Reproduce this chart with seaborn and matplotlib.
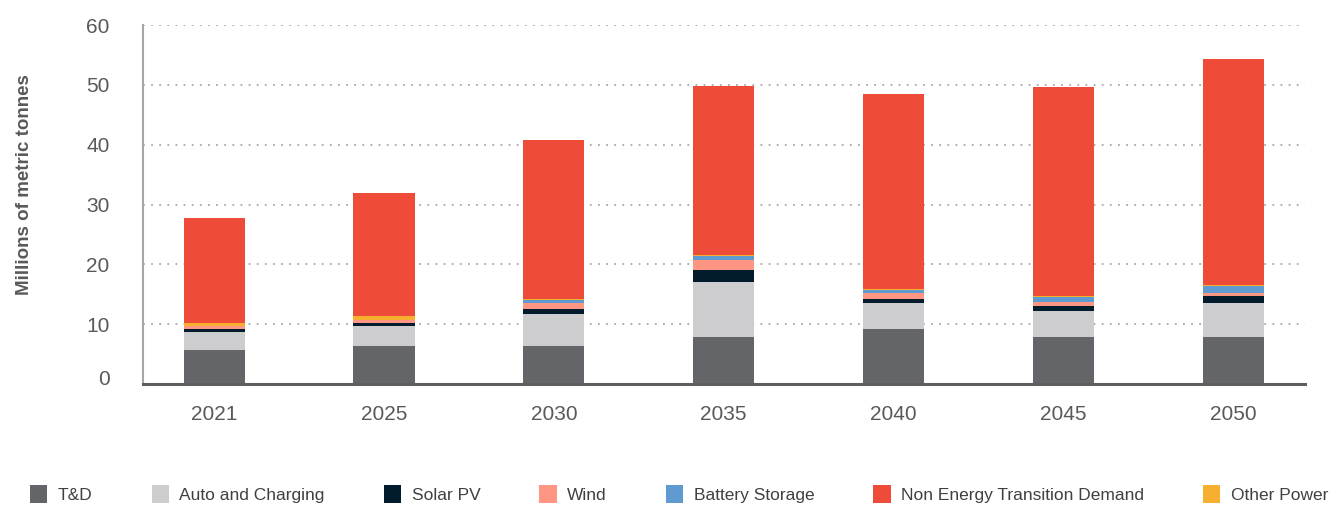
import matplotlib
matplotlib.use("Agg")
import matplotlib.pyplot as plt
from matplotlib.patches import Patch
import matplotlib.transforms as mtransforms
import numpy as np
import seaborn as sns

# values (millions of metric tonnes)
years = ["2021", "2025", "2030", "2035", "2040", "2045", "2050"]
td = [5.6, 6.4, 6.4, 7.9, 9.2, 7.9, 7.9]
auto_charging = [3.15, 3.3, 5.3, 9.1, 4.3, 4.3, 5.6]
solar_pv = [0.5, 0.5, 0.8, 2.0, 0.65, 0.8, 1.15]
wind = [0.4, 0.5, 1.0, 1.65, 1.0, 0.65, 0.5]
battery = [0.05, 0.05, 0.5, 0.8, 0.55, 0.85, 1.15]
other_power = [0.45, 0.65, 0.15, 0.17, 0.12, 0.17, 0.17]
non_et = [17.55, 20.5, 26.7, 28.15, 32.6, 34.9, 37.9]

# stacking order bottom -> top
stack = [
    ("T&D", td, "#636569"),
    ("Auto and Charging", auto_charging, "#CDCDCF"),
    ("Solar PV", solar_pv, "#031C2D"),
    ("Wind", wind, "#FF9683"),
    ("Battery Storage", battery, "#5F9BD1"),
    ("Other Power", other_power, "#F6AF2E"),
    ("Non Energy Transition Demand", non_et, "#EE4B38"),
]
legend_order = ["T&D", "Auto and Charging", "Solar PV", "Wind",
                "Battery Storage", "Non Energy Transition Demand", "Other Power"]

sns.set_style("white")
plt.rcParams["font.family"] = ["Liberation Sans", "DejaVu Sans"]
text_col = "#595959"

fig = plt.figure(figsize=(13.34, 5.07), dpi=100)
ax = fig.add_axes([0.107, 0.2426, 0.871, 0.708])

# cumulative layers, drawn tallest first so each lower one covers it
cum = np.cumsum([np.array(v) for _, v, _ in stack], axis=0)
for i in range(len(stack) - 1, -1, -1):
    sns.barplot(x=years, y=cum[i], color=stack[i][2], saturation=1,
                width=0.36, errorbar=None, linewidth=0, ax=ax)

ax.set_xlim(-0.42, 6.42)
ax.set_ylim(0, 60)
ax.set_yticks(range(0, 61, 10))
ax.yaxis.grid(True, linestyle=(0, (1, 3.5)), color="#A8A8A8", linewidth=1.3)
ax.set_axisbelow(True)

for s in ["top", "right"]:
    ax.spines[s].set_visible(False)
ax.spines["left"].set_color("#A6A6A6")
ax.spines["left"].set_linewidth(1.5)
ax.spines["bottom"].set_color("#5E5E5E")
ax.spines["bottom"].set_linewidth(2.2)

ax.tick_params(axis="y", length=0, pad=24, labelsize=15, labelcolor=text_col)
ax.tick_params(axis="x", length=0, pad=15, labelsize=15, labelcolor=text_col)
ax.set_xlabel("")
ax.set_ylabel("")

# the "0" label sits a little above the baseline in the original
zero_lbl = ax.get_yticklabels()[0]
zero_lbl.set_transform(zero_lbl.get_transform() +
                       mtransforms.ScaledTranslation(0, 5 / 72, fig.dpi_scale_trans))

fig.text(25 / 1334, 1 - 185 / 507, "Millions of metric tonnes", rotation=90,
         ha="center", va="center", fontsize=13.5, fontweight="bold", color=text_col)

colors = {name: c for name, _, c in stack}
handles = [Patch(facecolor=colors[n], edgecolor="none", label=n) for n in legend_order]
fig.legend(handles=handles, loc="center left", bbox_to_anchor=(0.0225, 0.026),
           ncol=7, frameon=False, fontsize=12.5, handlelength=1.0,
           handleheight=1.2, handletextpad=0.6, columnspacing=3.4,
           borderpad=0, borderaxespad=0, labelcolor="#404040")

fig.savefig("out.png", dpi=100)
